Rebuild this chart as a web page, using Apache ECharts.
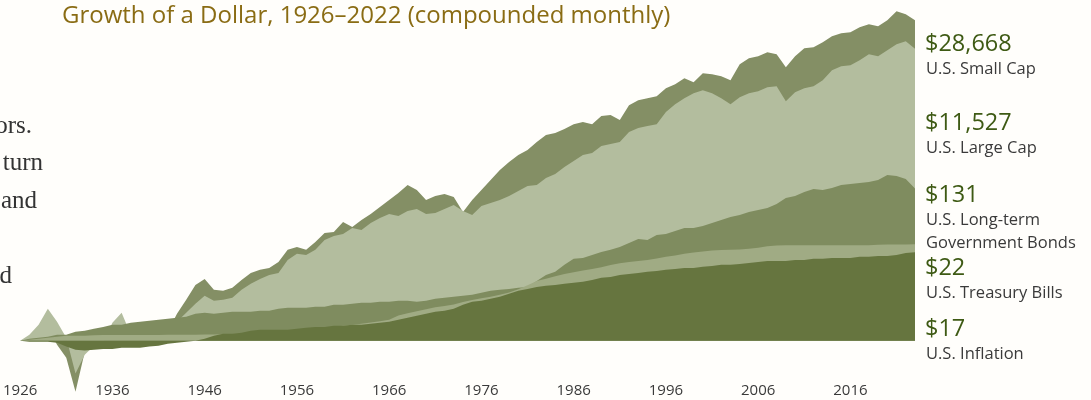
<!DOCTYPE html>
<html>
<head>
<meta charset="utf-8">
<script src="https://cdn.jsdelivr.net/npm/echarts@6.0.0/dist/echarts.min.js"></script>
<style>
  html, body { margin: 0; padding: 0; background: #fffefb; }
  #chart { width: 1091px; height: 400px; }
</style>
</head>
<body>
<div id="chart"></div>
<script>
// year markers (start of each year, last point = end of 2022)
const years = [
  1926, 1927, 1928, 1929, 1930, 1931, 1932, 1933, 1934, 1935,
  1936, 1937, 1938, 1939, 1940, 1941, 1942, 1943, 1944, 1945,
  1946, 1947, 1948, 1949, 1950, 1951, 1952, 1953, 1954, 1955,
  1956, 1957, 1958, 1959, 1960, 1961, 1962, 1963, 1964, 1965,
  1966, 1967, 1968, 1969, 1970, 1971, 1972, 1973, 1974, 1975,
  1976, 1977, 1978, 1979, 1980, 1981, 1982, 1983, 1984, 1985,
  1986, 1987, 1988, 1989, 1990, 1991, 1992, 1993, 1994, 1995,
  1996, 1997, 1998, 1999, 2000, 2001, 2002, 2003, 2004, 2005,
  2006, 2007, 2008, 2009, 2010, 2011, 2012, 2013, 2014, 2015,
  2016, 2017, 2018, 2019, 2020, 2021, 2022, 2023
];

const smallCap = [
  1.00, 1.07, 1.42, 1.52, 0.88, 0.58, 0.196, 0.70, 0.88, 0.97,
  1.67, 2.09, 1.03, 1.29, 1.17, 1.10, 1.33, 2.37, 3.71, 5.99,
  7.26, 5.11, 4.95, 5.45, 7.03, 8.80, 9.69, 10.3, 12.5, 18.4,
  20.2, 18.4, 23.7, 31.6, 32.7, 45.0, 38.3, 48.0, 58.1, 72.6,
  90.9, 114, 147, 125, 91, 103, 110, 100, 61.9, 91,
  125, 172, 237, 306, 383, 450, 581, 726, 774, 880,
  1032, 1101, 1032, 1334, 1377, 1174, 1896, 2224, 2371, 2528,
  3265, 3711, 4496, 3956, 5275, 5109, 4793, 4217, 7034, 8522,
  9085, 10325, 9685, 6391, 9085, 11735, 12115, 14215, 17223, 18957,
  19573, 22967, 25280, 23714, 28730, 38312, 34807, 28668
];

const largeCap = [
  1.00, 1.21, 1.67, 2.78, 1.84, 1.10, 0.35, 0.64, 0.85, 0.94,
  1.78, 2.45, 1.21, 1.42, 1.29, 1.17, 1.07, 1.84, 2.45, 3.27,
  4.22, 3.59, 3.71, 3.96, 5.11, 6.19, 7.26, 8.25, 8.80, 13.3,
  16.2, 15.6, 18.4, 25.3, 28.7, 30.6, 37.1, 34.8, 43.5, 51.1,
  58.1, 54.5, 63.9, 68.1, 58.1, 59.9, 68.1, 77.4, 63.9, 56.2,
  75.0, 82.5, 90.9, 103, 121, 142, 147, 184, 209, 261,
  316, 383, 408, 511, 545, 581, 799, 909, 969, 1032,
  1516, 1957, 2371, 2783, 3063, 2783, 2371, 1957, 2448, 2783,
  2966, 3371, 3481, 2154, 2873, 3265, 3481, 4217, 5806, 6598,
  6813, 7994, 9685, 9085, 11007, 13335, 14678, 11527
];

const govBonds = [
  1.00, 1.07, 1.10, 1.14, 1.21, 1.21, 1.33, 1.38, 1.47, 1.56,
  1.67, 1.67, 1.78, 1.84, 1.90, 1.96, 2.02, 2.09, 2.15, 2.37,
  2.45, 2.37, 2.45, 2.53, 2.53, 2.53, 2.61, 2.61, 2.78, 2.87,
  2.87, 2.87, 2.97, 2.97, 3.16, 3.16, 3.27, 3.37, 3.37, 3.48,
  3.48, 3.59, 3.59, 3.48, 3.59, 3.83, 3.96, 4.08, 4.22, 4.35,
  4.64, 4.95, 5.11, 5.27, 5.45, 5.62, 6.81, 8.25, 9.09, 11.4,
  13.8, 14.2, 15.6, 17.2, 18.4, 20.2, 23.0, 26.1, 25.3, 29.7,
  30.6, 33.7, 37.1, 37.1, 39.6, 43.5, 47.9, 52.8, 56.2, 61.9,
  66.0, 70.3, 80.0, 96.9, 103, 117, 129, 125, 133, 147,
  152, 157, 162, 172, 202, 196, 178, 131
];

const tBills = [
  1.00, 1.03, 1.07, 1.10, 1.14, 1.17, 1.17, 1.17, 1.19, 1.20,
  1.20, 1.20, 1.20, 1.20, 1.20, 1.20, 1.21, 1.21, 1.21, 1.21,
  1.22, 1.22, 1.23, 1.24, 1.25, 1.27, 1.29, 1.31, 1.33, 1.35,
  1.38, 1.42, 1.47, 1.51, 1.57, 1.62, 1.67, 1.73, 1.80, 1.87,
  1.96, 2.25, 2.42, 2.57, 2.75, 2.92, 3.04, 3.20, 3.45, 3.70,
  3.90, 4.10, 4.35, 4.70, 5.20, 5.90, 6.80, 7.30, 7.90, 8.50,
  9.00, 9.50, 10.0, 10.5, 11.3, 12.0, 12.5, 12.9, 13.3, 13.9,
  14.7, 15.4, 16.2, 16.9, 17.4, 18.0, 18.3, 18.4, 18.6, 19.0,
  19.7, 20.6, 21.2, 21.3, 21.3, 21.3, 21.3, 21.3, 21.3, 21.3,
  21.3, 21.4, 21.4, 21.7, 21.8, 21.8, 21.8, 22.0
];

const inflation = [
  1.00, 0.97, 0.97, 0.97, 0.94, 0.83, 0.75, 0.73, 0.75, 0.77,
  0.77, 0.80, 0.80, 0.80, 0.83, 0.85, 0.91, 0.94, 0.97, 1.00,
  1.07, 1.17, 1.25, 1.25, 1.29, 1.38, 1.42, 1.42, 1.42, 1.42,
  1.47, 1.52, 1.56, 1.56, 1.62, 1.62, 1.67, 1.67, 1.72, 1.78,
  1.84, 1.96, 2.09, 2.22, 2.37, 2.53, 2.61, 2.78, 3.16, 3.48,
  3.59, 3.83, 4.08, 4.50, 4.95, 5.27, 5.62, 5.81, 5.99, 6.19,
  6.39, 6.60, 7.03, 7.50, 7.74, 8.25, 8.52, 8.80, 9.09, 9.38,
  9.69, 10.0, 10.3, 10.3, 10.7, 11.0, 11.4, 11.4, 11.7, 12.1,
  12.5, 12.9, 12.9, 12.9, 13.3, 13.3, 13.8, 13.8, 14.2, 14.2,
  14.2, 14.7, 14.7, 15.1, 15.1, 15.6, 16.6, 17.0
];

const tickYears = [1926, 1936, 1946, 1956, 1966, 1976, 1986, 1996, 2006, 2016];

const seriesNames = ['U.S. Small Cap', 'U.S. Large Cap', 'U.S. Long-term Government Bonds', 'U.S. Treasury Bills', 'U.S. Inflation'];
const endValues = ['$28,668', '$11,527', '$131', '$22', '$17'];

// 左侧被裁掉的正文片段
const sideText = ['ors.', 'turn', 'and', '', 'd'];

const colors = ['#848f65', '#b3bd9e', '#7f8c5f', '#a0ab84', '#66753f'];
const allSeries = [smallCap, largeCap, govBonds, tBills, inflation];

function areaSeries(name, vals, color) {
    return {
        name: name,
        type: 'line',
        data: years.map((y, i) => [y, vals[i]]),
        showSymbol: false,
        silent: true,
        lineStyle: { width: 0 },
        areaStyle: { color: color, opacity: 1, origin: 1 }
    };
}

const graphics = [
    {
        type: 'text', x: 62, y: 16,
        style: {
            text: 'Growth of a Dollar, 1926–2022 (compounded monthly)',
            fill: '#8a6c14', font: '24px "Open Sans"', verticalAlign: 'middle'
        }
    }
];

const sideRight = [32, 43, 37, 0, 12];
sideText.forEach((t, i) => {
    if (!t) return;
    graphics.push({
        type: 'text', x: sideRight[i], y: 126 + i * 37.5,
        style: { text: t, fill: '#333', font: '25px "Liberation Serif"', align: 'right', verticalAlign: 'middle' }
    });
});

const valueY = [44, 123, 195, 268, 329];
const nameLines = [['U.S. Small Cap'], ['U.S. Large Cap'], ['U.S. Long-term', 'Government Bonds'], ['U.S. Treasury Bills'], ['U.S. Inflation']];
endValues.forEach((v, i) => {
    graphics.push({
        type: 'text', x: 925, y: valueY[i],
        style: { text: v, fill: '#3e5a14', font: '23.5px "Open Sans"', verticalAlign: 'middle' }
    });
    nameLines[i].forEach((ln, j) => {
        graphics.push({
            type: 'text', x: 926, y: valueY[i] + 25 + j * 23,
            style: { text: ln, fill: '#3a3a3a', font: '16.5px "Open Sans"', verticalAlign: 'middle' }
        });
    });
});

const options = {
    backgroundColor: '#fffefb',
    animation: false,
    grid: { left: 18, width: 897, top: 0, height: 400 },
    xAxis: {
        type: 'value',
        min: 1926,
        max: 2023,
        offset: -25,
        axisLine: { show: false },
        axisTick: { show: false },
        splitLine: { show: false },
        axisLabel: {
            customValues: tickYears,
            color: '#3a3a3a',
            fontSize: 15,
            fontFamily: 'Open Sans',
            margin: 8,
            formatter: v => String(v)
        }
    },
    yAxis: {
        type: 'log',
        min: 0.15,
        max: 55000,
        show: false
    },
    series: allSeries.map((vals, i) => areaSeries(seriesNames[i], vals, colors[i])),
    graphic: graphics
};

const E = echarts.init(document.getElementById('chart'));
window.onresize = function () {
    E.resize();
};
E.setOption(options);
</script>
</body>
</html>
